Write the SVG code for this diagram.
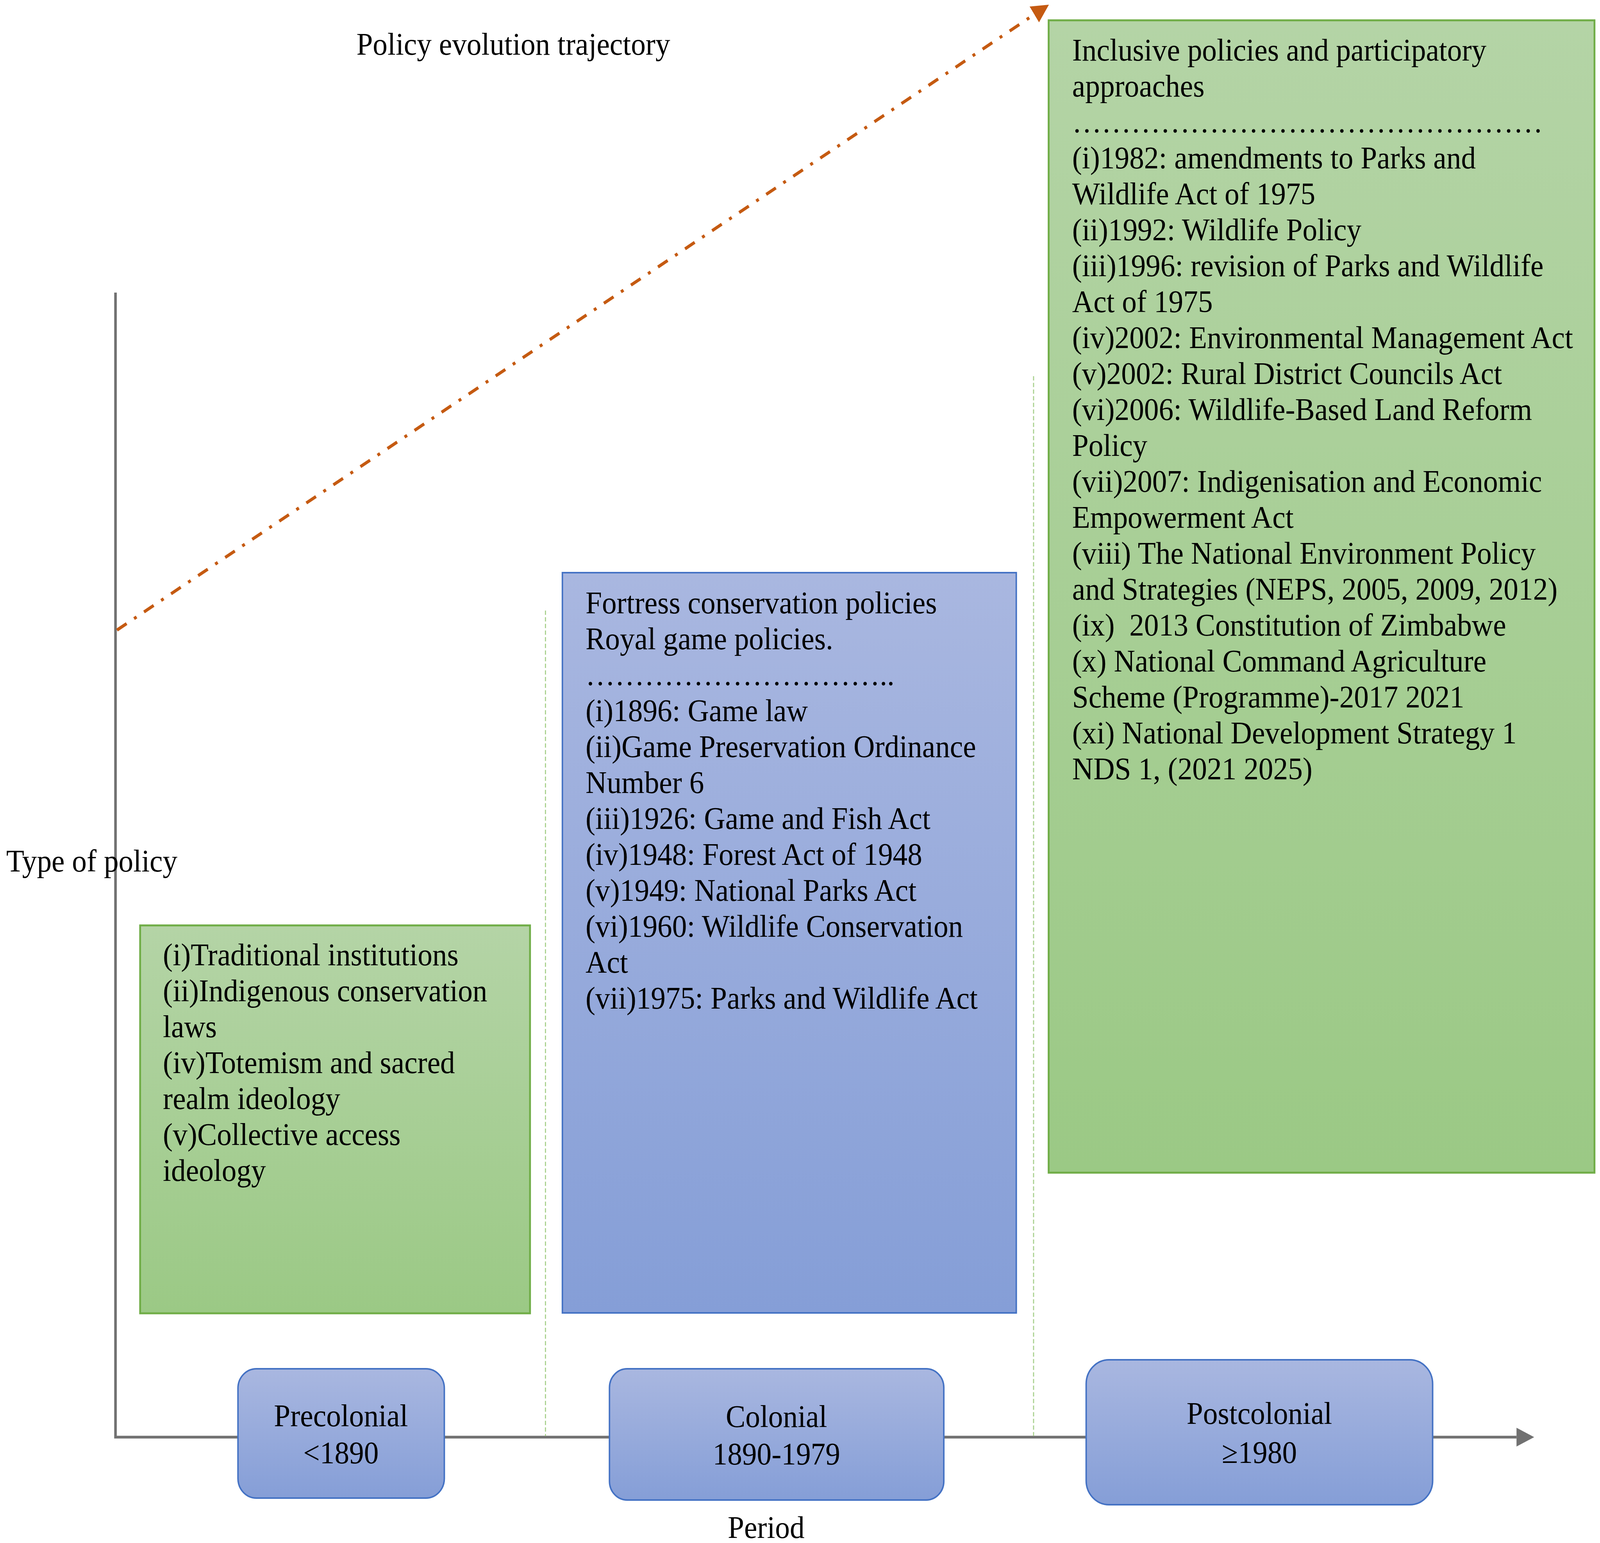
<svg xmlns="http://www.w3.org/2000/svg" width="4350" height="3950" viewBox="0 0 4350 3950">
<style>
text{font-family:"Liberation Serif","Times New Roman",serif;font-size:80px;fill:#000;white-space:pre}
.mid{text-anchor:middle}
.gbox{fill:url(#gGreen);stroke:#70ad47;stroke-width:5}
.bbox{fill:url(#gBlue);stroke:#4472c4;stroke-width:4}
.axis{fill:none;stroke:#717171;stroke-width:7;stroke-linejoin:miter}
.traj{fill:none;stroke:#c55a11;stroke-width:8;stroke-dasharray:31 24 8 24}
.sep{fill:none;stroke:#a9d18e;stroke-width:3;stroke-dasharray:11 6}
</style>
<defs>
<linearGradient id="gBlue" x1="0" y1="0" x2="0" y2="1">
<stop offset="0" stop-color="#a9b7e0"/>
<stop offset="1" stop-color="#859ed7"/>
</linearGradient>
<linearGradient id="gGreen" x1="0" y1="0" x2="0" y2="1">
<stop offset="0" stop-color="#b4d4a6"/>
<stop offset="1" stop-color="#9bc985"/>
</linearGradient>
<marker id="arrGrey" markerUnits="userSpaceOnUse" viewBox="0 0 48 48" refX="0" refY="24" markerWidth="48" markerHeight="48" orient="auto">
<path d="M0,0 L48,24 L0,48 Z" fill="#717171"/>
</marker>
<marker id="arrOrange" markerUnits="userSpaceOnUse" viewBox="0 0 47 48" refX="0" refY="24" markerWidth="47" markerHeight="48" orient="auto">
<path d="M0,0 L47,24 L0,48 Z" fill="#c55a11"/>
</marker>
</defs>
<rect width="4350" height="3950" fill="#fff"/>
<g id="diagram" transform="scale(0.94161 1)">

<g id="connectors">
<path class="axis" d="M314,749 L314,3679 L4123,3679" marker-end="url(#arrGrey)"/>
<line class="sep" x1="1483" y1="1563" x2="1483" y2="3676"/>
<line class="sep" x1="2810" y1="963" x2="2810" y2="3676"/>
<line class="traj" x1="318" y1="1613" x2="2812" y2="37" marker-end="url(#arrOrange)"/>
</g>

<g id="label-trajectory">
<text x="969" y="140">Policy evolution trajectory</text>
</g>
<g id="label-type-of-policy">
<text x="17" y="2231">Type of policy</text>
</g>
<g id="label-period">
<text class="mid" x="2083" y="3937">Period</text>
</g>

<g id="precolonial-policies">
<rect class="gbox" x="381" y="2369" width="1060" height="993"/>
<text x="443" y="2471">(i)Traditional institutions</text>
<text x="443" y="2563">(ii)Indigenous conservation</text>
<text x="443" y="2655">laws</text>
<text x="443" y="2747">(iv)Totemism and sacred</text>
<text x="443" y="2839">realm ideology</text>
<text x="443" y="2931">(v)Collective access</text>
<text x="443" y="3023">ideology</text>
</g>

<g id="colonial-policies">
<rect class="bbox" x="1529" y="1466" width="1234" height="1895"/>
<text x="1592" y="1570">Fortress conservation policies</text>
<text x="1592" y="1662">Royal game policies.</text>
<text x="1592" y="1754">&#8230;&#8230;&#8230;&#8230;&#8230;&#8230;&#8230;&#8230;&#8230;&#8230;..</text>
<text x="1592" y="1846">(i)1896: Game law</text>
<text x="1592" y="1938">(ii)Game Preservation Ordinance</text>
<text x="1592" y="2030">Number 6</text>
<text x="1592" y="2122">(iii)1926: Game and Fish Act</text>
<text x="1592" y="2214">(iv)1948: Forest Act of 1948</text>
<text x="1592" y="2306">(v)1949: National Parks Act</text>
<text x="1592" y="2398">(vi)1960: Wildlife Conservation</text>
<text x="1592" y="2490">Act</text>
<text x="1592" y="2582">(vii)1975: Parks and Wildlife Act</text>
</g>

<g id="postcolonial-policies">
<rect class="gbox" x="2851" y="52" width="1484" height="2950"/>
<text x="2915" y="155">Inclusive policies and participatory</text>
<text x="2915" y="247">approaches</text>
<text x="2915" y="339">&#8230;&#8230;&#8230;&#8230;&#8230;&#8230;&#8230;&#8230;&#8230;&#8230;&#8230;&#8230;&#8230;&#8230;&#8230;&#8230;</text>
<text x="2915" y="431">(i)1982: amendments to Parks and</text>
<text x="2915" y="523">Wildlife Act of 1975</text>
<text x="2915" y="615">(ii)1992: Wildlife Policy</text>
<text x="2915" y="707">(iii)1996: revision of Parks and Wildlife</text>
<text x="2915" y="799">Act of 1975</text>
<text x="2915" y="891">(iv)2002: Environmental Management Act</text>
<text x="2915" y="983">(v)2002: Rural District Councils Act</text>
<text x="2915" y="1075">(vi)2006: Wildlife-Based Land Reform</text>
<text x="2915" y="1167">Policy</text>
<text x="2915" y="1259">(vii)2007: Indigenisation and Economic</text>
<text x="2915" y="1351">Empowerment Act</text>
<text x="2915" y="1443">(viii) The National Environment Policy</text>
<text x="2915" y="1535">and Strategies (NEPS, 2005, 2009, 2012)</text>
<text x="2915" y="1627">(ix)  2013 Constitution of Zimbabwe</text>
<text x="2915" y="1719">(x) National Command Agriculture</text>
<text x="2915" y="1811">Scheme (Programme)-2017 2021</text>
<text x="2915" y="1903">(xi) National Development Strategy 1</text>
<text x="2915" y="1995">NDS 1, (2021 2025)</text>
</g>

<g id="period-precolonial">
<rect class="bbox" x="647" y="3504" width="561" height="331" rx="50" ry="50"/>
<text class="mid" x="927" y="3651">Precolonial</text>
<text class="mid" x="927" y="3746">&lt;1890</text>
</g>

<g id="period-colonial">
<rect class="bbox" x="1657" y="3504" width="909" height="336" rx="48" ry="48"/>
<text class="mid" x="2111" y="3653">Colonial</text>
<text class="mid" x="2111" y="3749">1890-1979</text>
</g>

<g id="period-postcolonial">
<rect class="bbox" x="2953" y="3481" width="942" height="371" rx="62" ry="62"/>
<text class="mid" x="3424" y="3645">Postcolonial</text>
<text class="mid" x="3424" y="3745">≥1980</text>
</g>
</g>
</svg>
